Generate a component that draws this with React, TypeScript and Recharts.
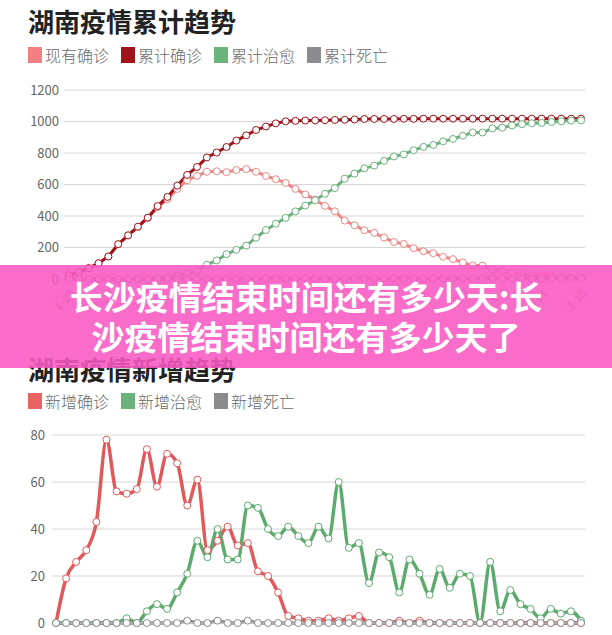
import React from 'react';
import { LineChart, Line, XAxis, YAxis, CartesianGrid } from 'recharts';

const dates = [
  '1-23','1-24','1-25','1-26','1-27','1-28','1-29','1-30','1-31',
  '2-1','2-2','2-3','2-4','2-5','2-6','2-7','2-8','2-9','2-10','2-11','2-12','2-13','2-14','2-15',
  '2-16','2-17','2-18','2-19','2-20','2-21','2-22','2-23','2-24','2-25','2-26','2-27','2-28','2-29',
  '3-1','3-2','3-3','3-4','3-5','3-6','3-7','3-8','3-9','3-10','3-11','3-12','3-13','3-14','3-15',
];

const currentConfirmed = [24,43,69,100,143,221,277,330,387,456,506,572,627,655,681,684,678,692,698,681,654,634,610,572,537,504,464,430,371,341,310,293,263,235,223,196,176,164,141,126,105,85,85,59,54,40,32,26,24,18,14,9,8];
const cumConfirmed = [24,43,69,100,143,221,277,332,389,463,521,593,661,711,772,803,838,879,912,946,968,988,1001,1004,1006,1007,1008,1010,1011,1013,1016,1016,1016,1016,1017,1017,1018,1018,1018,1018,1018,1018,1018,1018,1018,1018,1018,1018,1018,1018,1018,1018,1018];
const cumRecovered = [0,0,0,0,0,0,0,2,2,7,15,21,34,55,90,118,158,185,212,262,311,351,388,429,466,500,541,577,637,669,703,720,750,778,791,818,839,851,874,889,910,930,930,956,961,975,983,989,991,997,1001,1006,1007];
const cumDeaths = [0,0,0,0,0,0,0,0,0,0,0,0,0,1,1,1,2,2,2,3,3,3,3,3,3,3,3,3,3,3,3,3,3,3,3,3,3,3,3,3,3,3,3,3,3,3,3,3,3,3,3,3,3];

const newConfirmed = [0,19,26,31,43,78,56,55,57,74,58,72,68,50,61,31,35,41,33,34,22,20,13,3,2,1,1,2,1,2,3,0,0,0,1,0,1,0,0,0,0,0,0,0,0,0,0,0,0,0,0,0,0];
const newRecovered = [0,0,0,0,0,0,0,2,0,5,8,6,13,21,35,28,40,27,27,50,49,40,37,41,37,34,41,36,60,32,34,17,30,28,13,27,21,12,23,15,21,20,0,26,5,14,8,6,2,6,4,5,1];
const newDeaths = [0,0,0,0,0,0,0,0,0,0,0,0,0,1,0,0,1,0,0,1,0,0,0,0,0,0,0,0,0,0,0,0,0,0,0,0,0,0,0,0,0,0,0,0,0,0,0,0,0,0,0,0,0];

const topTicks = [0, 200, 400, 600, 800, 1000, 1200];
const bottomTicks = [0, 20, 40, 60, 80];

const topSeries = [
  { key: 'current', name: '现有确诊', color: '#F28080', line: '#EC8686' },
  { key: 'cumConf', name: '累计确诊', color: '#A0131A', line: '#9E1118' },
  { key: 'cumRec', name: '累计治愈', color: '#6AB47C', line: '#6DB07E' },
  { key: 'cumDeath', name: '累计死亡', color: '#8C8B90', line: '#8C8B90' },
];
const bottomSeries = [
  { key: 'newConf', name: '新增确诊', color: '#E86464', line: '#E05A5C' },
  { key: 'newRec', name: '新增治愈', color: '#6AB47C', line: '#5DAA6E' },
  { key: 'newDeath', name: '新增死亡', color: '#8C8C8C', line: '#8C8C8C' },
];

const topData = dates.map((d, i) => ({
  date: d,
  current: currentConfirmed[i],
  cumConf: cumConfirmed[i],
  cumRec: cumRecovered[i],
  cumDeath: cumDeaths[i],
}));
const bottomData = dates.map((d, i) => ({
  date: d,
  newConf: newConfirmed[i],
  newRec: newRecovered[i],
  newDeath: newDeaths[i],
}));

const FONT = '"Noto Sans CJK SC", "Noto Sans", sans-serif';

const Legend = ({ items, top }: { items: { name: string; color: string }[]; top: number }) => (
  <div style={{ position: 'absolute', left: 28, top, height: 20, display: 'flex', alignItems: 'center' }}>
    {items.map((it, i) => (
      <div key={i} style={{ display: 'flex', alignItems: 'center', marginRight: 12 }}>
        <div style={{ width: 14, height: 16, background: it.color, marginRight: 3 }} />
        <span style={{ fontFamily: FONT, fontSize: 16, color: '#6a6a6a', fontWeight: 300, lineHeight: '20px' }}>{it.name}</span>
      </div>
    ))}
  </div>
);

const Title = ({ text, top }: { text: string; top: number }) => (
  <div style={{ position: 'absolute', left: 28, top, fontFamily: FONT, fontSize: 26, fontWeight: 700, color: '#222', lineHeight: '30px' }}>
    {text}
  </div>
);

const XTick = (props: any) => {
  const { x, y, payload } = props;
  return (
    <g transform={`translate(${x},${y})`}>
      <text x={0} y={0} dy={10} textAnchor="end" transform="rotate(-45)" fontSize={12} fill="#999" fontFamily={FONT}>
        {payload.value}
      </text>
    </g>
  );
};

export default function App() {
  return (
    <div style={{ position: 'absolute', left: 0, top: 0, width: 612, height: 635, overflow: 'hidden', background: '#fff' }}>
      <Title text="湖南疫情累计趋势" top={6} />
      <Legend items={topSeries} top={45} />
      <div style={{ position: 'absolute', left: 0, top: 0 }}>
        <LineChart width={612} height={330} data={topData} margin={{ top: 90, right: 27, bottom: 0, left: 0 }}>
          <CartesianGrid vertical={false} stroke="#d6d6d6" />
          <XAxis dataKey="date" interval={3} padding={{ left: 5, right: 4 }} tickLine={false} axisLine={{ stroke: '#d6d6d6' }} height={51} tick={<XTick />} />
          <YAxis domain={[0, 1200]} ticks={topTicks} width={64} tickSize={2} tickMargin={3} tickLine={false} axisLine={false}
            tick={{ fontSize: 13, fill: '#666', fontFamily: FONT }} />
          {topSeries.map((s) => (
            <Line key={s.key} type="linear" dataKey={s.key} stroke={s.line} strokeWidth={3}
              dot={{ r: 3.5, fill: '#fff', stroke: s.line, strokeWidth: 1 }} activeDot={false} isAnimationActive={false} />
          ))}
        </LineChart>
      </div>

      <Title text="湖南疫情新增趋势" top={354} />
      <Legend items={bottomSeries} top={391} />
      <div style={{ position: 'absolute', left: 0, top: 380 }}>
        <LineChart width={612} height={255} data={bottomData} margin={{ top: 55, right: 27, bottom: 0, left: 0 }}>
          <CartesianGrid vertical={false} stroke="#d6d6d6" />
          <XAxis dataKey="date" interval={3} padding={{ left: 4, right: 4 }} tickLine={false} axisLine={{ stroke: '#d6d6d6' }} height={12} tick={false} />
          <YAxis domain={[0, 80]} ticks={bottomTicks} width={52} tickSize={2} tickMargin={5} tickLine={false} axisLine={false}
            tick={{ fontSize: 13, fill: '#666', fontFamily: FONT }} />
          {bottomSeries.map((s) => (
            <Line key={s.key} type="monotone" dataKey={s.key} stroke={s.line} strokeWidth={3.5}
              dot={{ r: 3.5, fill: '#fff', stroke: s.line, strokeWidth: 1 }} activeDot={false} isAnimationActive={false} />
          ))}
        </LineChart>
      </div>

      <div style={{ position: 'absolute', left: 0, top: 265, width: 612, height: 103, background: 'rgba(249, 88, 194, 0.88)' }}>
        <div style={{ position: 'absolute', left: 0, width: 612, top: 12, textAlign: 'center', fontFamily: FONT, fontSize: 33, fontWeight: 700, color: '#fff', lineHeight: '38px' }}>
          长沙疫情结束时间还有多少天:长
        </div>
        <div style={{ position: 'absolute', left: 0, width: 612, top: 52, textAlign: 'center', fontFamily: FONT, fontSize: 33, fontWeight: 700, color: '#fff', lineHeight: '38px' }}>
          沙疫情结束时间还有多少天了
        </div>
      </div>
    </div>
  );
}
